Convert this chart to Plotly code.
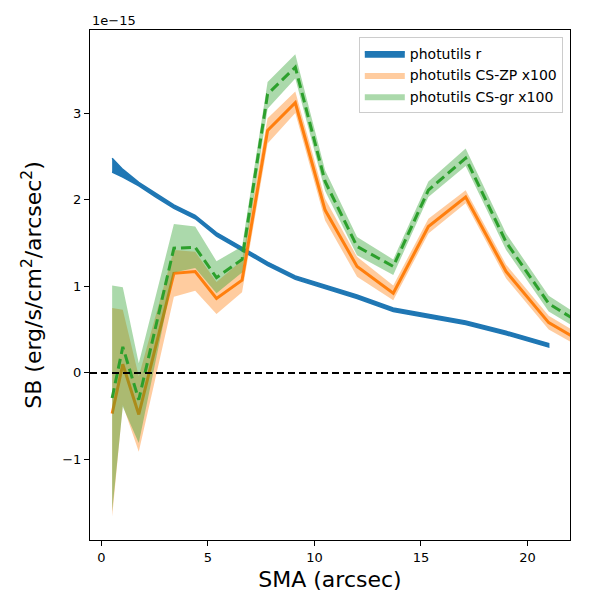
import plotly.graph_objects as go

# surface brightness in units of 1e-15 erg/s/cm^2/arcsec^2
sma_r = [0.5, 1.0, 1.75, 2.55, 3.4, 4.4, 5.4, 6.6, 7.8, 9.1, 10.5, 12.0, 13.7, 15.35, 17.1, 19.0, 21.0]
sb_r = [2.40, 2.30, 2.18, 2.05, 1.92, 1.80, 1.60, 1.43, 1.26, 1.10, 0.99, 0.88, 0.73, 0.66, 0.58, 0.46, 0.32]
sb_r_lo = [2.32, 2.26, 2.16, 2.03, 1.90, 1.78, 1.58, 1.41, 1.24, 1.08, 0.97, 0.86, 0.71, 0.64, 0.56, 0.44, 0.30]
sb_r_hi = [2.48, 2.35, 2.20, 2.07, 1.94, 1.82, 1.62, 1.45, 1.28, 1.12, 1.01, 0.90, 0.75, 0.68, 0.60, 0.48, 0.34]

sma_cs = [0.5, 1.0, 1.75, 3.4, 4.4, 5.4, 6.6, 7.8, 9.1, 10.5, 12.0, 13.7, 15.35, 17.1, 19.0, 21.0, 23.1]
sb_zp = [-0.47, 0.10, -0.48, 1.15, 1.17, 0.86, 1.07, 2.80, 3.12, 1.88, 1.23, 0.92, 1.69, 2.03, 1.17, 0.58, 0.28]
sb_zp_lo = [-1.66, -0.37, -0.91, 0.88, 0.95, 0.68, 0.93, 2.65, 3.00, 1.76, 1.11, 0.84, 1.61, 1.96, 1.09, 0.50, 0.21]
sb_zp_hi = [0.75, 0.73, -0.04, 1.42, 1.40, 1.05, 1.30, 2.94, 3.25, 2.01, 1.34, 1.01, 1.78, 2.11, 1.25, 0.66, 0.35]

sb_gr = [-0.29, 0.30, -0.31, 1.44, 1.45, 1.10, 1.31, 3.22, 3.53, 2.21, 1.46, 1.23, 2.11, 2.48, 1.51, 0.80, 0.48]
sb_gr_lo = [-1.60, -0.39, -0.81, 1.16, 1.21, 0.92, 1.16, 3.05, 3.40, 2.10, 1.36, 1.13, 2.03, 2.39, 1.42, 0.71, 0.40]
sb_gr_hi = [1.01, 0.99, 0.11, 1.72, 1.69, 1.29, 1.46, 3.36, 3.68, 2.34, 1.57, 1.31, 2.21, 2.59, 1.61, 0.89, 0.56]

xticks = [0, 5, 10, 15, 20]
yticks = [-1, 0, 1, 2, 3]

BLUE = "#1f77b4"
ORANGE = "#ff7f0e"
GREEN = "#2ca02c"


def band(x, lo, hi, color, name, width=0):
    return go.Scatter(x=x + x[::-1], y=hi + lo[::-1], fill="toself", fillcolor=color,
                      line=dict(width=width, color=color), mode="lines", name=name,
                      hoverinfo="skip")


fig = go.Figure()
fig.add_trace(band(sma_r, sb_r_lo, sb_r_hi, BLUE, "photutils r", width=1.5))
fig.add_trace(band(sma_cs, sb_zp_lo, sb_zp_hi, "rgba(255,127,14,0.4)", "photutils CS-ZP x100"))
fig.add_trace(go.Scatter(x=sma_cs, y=sb_zp, mode="lines", line=dict(color=ORANGE, width=3),
                         showlegend=False))
fig.add_trace(band(sma_cs, sb_gr_lo, sb_gr_hi, "rgba(44,160,44,0.4)", "photutils CS-gr x100"))
fig.add_trace(go.Scatter(x=sma_cs, y=sb_gr, mode="lines",
                         line=dict(color=GREEN, width=3, dash="10px,5px"), showlegend=False))

# dashed zero line across the whole axis
fig.add_shape(type="line", xref="paper", x0=0, x1=1, yref="y", y0=0, y1=0,
              line=dict(color="black", width=2, dash="7px,4px"), layer="above")

fig.add_annotation(text="1e\u221215", xref="paper", yref="paper", x=0, y=1,
                   xanchor="left", yanchor="bottom", showarrow=False,
                   font=dict(size=13, color="black"), yshift=0)

axis_style = dict(showline=True, linecolor="black", linewidth=1, mirror=True,
                  ticks="outside", ticklen=5, tickcolor="black", showgrid=False,
                  zeroline=False, tickfont=dict(size=13, color="black"), automargin=False)

fig.update_xaxes(range=[-0.54, 22.0], tickvals=xticks,
                 title=dict(text="SMA (arcsec)", font=dict(size=22, color="black"), standoff=8),
                 **axis_style)
fig.update_yaxes(range=[-1.93, 3.96], tickvals=yticks,
                 title=dict(text="SB (erg/s/cm<sup>2</sup>/arcsec<sup>2</sup>)",
                            font=dict(size=22, color="black"), standoff=14),
                 **axis_style)

fig.update_layout(
    width=600, height=600,
    margin=dict(l=82, r=38, t=22, b=68),
    plot_bgcolor="white", paper_bgcolor="white",
    font=dict(family="DejaVu Sans", color="black"),
    legend=dict(x=0.985, y=0.986, xanchor="right", yanchor="top",
                bordercolor="#cccccc", borderwidth=1, bgcolor="rgba(255,255,255,0.8)",
                font=dict(size=14), itemwidth=40, tracegroupgap=0),
)

fig.write_html("out.html")
